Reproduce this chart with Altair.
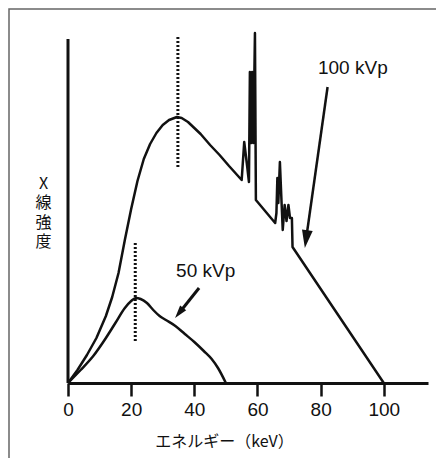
import altair as alt
import pandas as pd

# ---- data (energy in keV, intensity in arbitrary units) ----
kev_100 = [0, 3, 6, 9, 12, 14, 16, 18, 20, 22, 24, 26, 28, 30, 32, 34.5, 36, 38, 40, 42, 45, 48, 51, 55.0,
           55.8, 56.8, 57.3, 57.6, 58.0, 58.3, 58.7, 59.2, 59.5,
           65.6, 66.0, 66.3, 66.6, 67.1, 67.5, 68.0, 68.6, 69.2, 69.8, 70.3, 70.9, 71.1, 100]
int_100 = [0, 13, 28, 45, 67, 86, 110, 143, 174, 202, 224, 239, 250, 258, 263, 266, 265, 261, 255, 249, 238, 228, 217, 203,
           241, 215, 201, 311, 240, 311, 240, 350, 183,
           160, 170, 205, 180, 221, 190, 153, 178, 162, 178, 165, 165, 136, 0]

kev_50 = [0, 4, 8, 12, 15, 18, 20, 21.5, 23, 25, 27, 29, 31, 34, 37, 40, 43, 45.5, 47.5, 50]
int_50 = [0, 13, 27, 45, 60, 75, 82, 85, 84, 80, 73, 67, 63, 57, 49, 41, 32, 24, 15, 0]

peak_kev = [34.8, 21.3]
peak_top = [348, 140]
peak_bottom = [216, 42]

arrow_labels = ["100 kVp", "50 kVp"]
label_kev = [90.2, 43.6]
label_int = [315, 112]
arrow_from_kev = [82.2, 41.5]
arrow_from_int = [296, 95]
arrow_to_kev = [75.4, 35.2]
arrow_to_int = [144, 70]
tip_kev = [75.0, 33.9]
tip_int = [135, 65]
tip_angle = [8, 38.7]
tip_size = [324, 169]
arrow_width = [2.5, 3]

x_ticks = [0, 10, 20, 30, 40, 50, 60, 70, 80, 90, 100]
y_axis_top = [344]

INK = "#111111"
LATIN = "Liberation Sans"
CJK = "Noto Sans CJK JP"

xs = alt.Scale(domain=[0, 114], nice=False, zero=False)
ys = alt.Scale(domain=[0, 353], nice=False, zero=False)

df100 = pd.DataFrame({"keV": kev_100, "I": int_100})
df50 = pd.DataFrame({"keV": kev_50, "I": int_50})
dfpeak = pd.DataFrame({"keV": peak_kev, "I": peak_bottom, "I2": peak_top})
dfarrow = pd.DataFrame({
    "label": arrow_labels, "lx": label_kev, "ly": label_int,
    "keV": arrow_from_kev, "I": arrow_from_int, "keV2": arrow_to_kev, "I2": arrow_to_int,
    "tx": tip_kev, "ty": tip_int, "ang": tip_angle, "sz": tip_size, "w": arrow_width,
})
dfyaxis = pd.DataFrame({"keV": [0], "I": [0], "I2": y_axis_top})

x_axis = alt.Axis(
    values=x_ticks,
    labelExpr="datum.value % 20 === 0 ? datum.label : ''",
    tickSize={"condition": {"test": "datum.value % 20 === 0", "value": 13}, "value": 7},
    tickWidth=2.5, tickColor=INK,
    domainWidth=3, domainColor=INK,
    labelFont=LATIN, labelFontSize=19, labelColor=INK, labelPadding=4,
    labelFlush=False, labelOverlap=False, grid=False,
    title="エネルギー（keV）", titleFont=CJK, titleFontSize=16, titleFontWeight="normal",
    titleColor=INK, titleX=156, titleY=58, titleAlign="center", titleBaseline="middle",
)
y_axis = alt.Axis(
    domain=False, ticks=False, labels=False, grid=False,
    title=["X", "線", "強", "度"], titleAngle=0, titleFont=CJK, titleFontSize=16,
    titleFontWeight="normal", titleColor=INK, titleLineHeight=19.5,
    titleX=-25, titleY=153, titleAlign="center", titleBaseline="middle",
)

line100 = alt.Chart(df100).mark_line(color=INK, strokeWidth=2.5, strokeJoin="round").encode(
    x=alt.X("keV:Q", scale=xs, axis=x_axis),
    y=alt.Y("I:Q", scale=ys, axis=y_axis),
)
line50 = alt.Chart(df50).mark_line(color=INK, strokeWidth=2.5, interpolate="monotone").encode(
    x=alt.X("keV:Q", scale=xs), y=alt.Y("I:Q", scale=ys),
)
peaks = alt.Chart(dfpeak).mark_rule(color=INK, strokeWidth=3, strokeDash=[2, 2]).encode(
    x=alt.X("keV:Q", scale=xs), y=alt.Y("I:Q", scale=ys), y2="I2:Q",
)
yline = alt.Chart(dfyaxis).mark_rule(color=INK, strokeWidth=3).encode(
    x=alt.X("keV:Q", scale=xs), y=alt.Y("I:Q", scale=ys), y2="I2:Q",
)
shafts = alt.Chart(dfarrow).mark_rule(color=INK).encode(
    x=alt.X("keV:Q", scale=xs), y=alt.Y("I:Q", scale=ys), x2="keV2:Q", y2="I2:Q",
    strokeWidth=alt.StrokeWidth("w:Q", scale=None),
)
heads = alt.Chart(dfarrow).mark_point(
    shape="M0,0L-0.6,-2L0.6,-2Z", filled=True, color=INK, opacity=1
).encode(
    x=alt.X("tx:Q", scale=xs), y=alt.Y("ty:Q", scale=ys),
    angle=alt.Angle("ang:Q", scale=None),
    size=alt.Size("sz:Q", scale=None),
)
labels = alt.Chart(dfarrow).mark_text(font=LATIN, fontSize=19, color=INK).encode(
    x=alt.X("lx:Q", scale=xs), y=alt.Y("ly:Q", scale=ys), text="label:N",
)
frame = alt.Chart(pd.DataFrame({"k": [0]})).mark_rect(
    fillOpacity=0, stroke="#666666", strokeWidth=1.5
).encode(
    x=alt.value(-59), x2=alt.value(900), y=alt.value(-21), y2=alt.value(900),
)

chart = alt.layer(frame, line100, line50, peaks, yline, shafts, heads, labels).properties(
    width=360, height=353,
    background="white",
    autosize=alt.AutoSizeParams(type="none"),
    padding={"left": 60, "top": 22, "right": 8, "bottom": 75},
).configure_view(strokeWidth=0, stroke="transparent")

chart.save("out.html", embed_options={"renderer": "svg", "actions": False})
